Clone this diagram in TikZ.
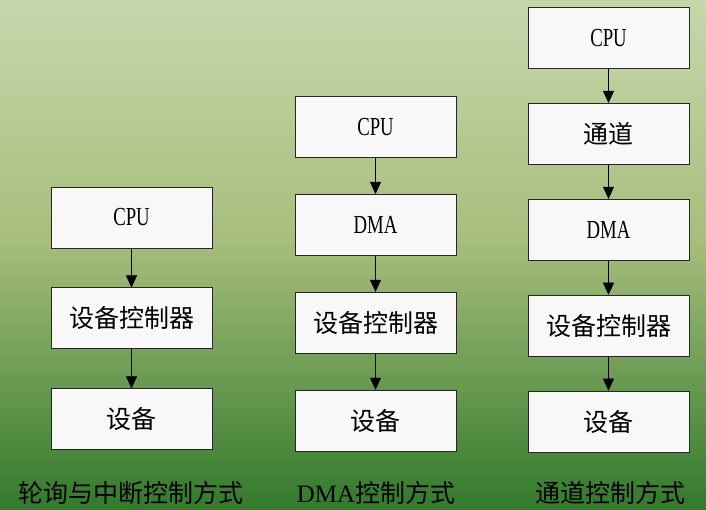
\documentclass[tikz,border=0pt]{standalone}
\usepackage{fontspec}
\setmainfont{Liberation Serif}
\newfontfamily\cjk{Noto Sans CJK SC}
\newfontfamily\narrowrm[FakeStretch=0.72]{Liberation Serif}
\usetikzlibrary{positioning, arrows.meta}
\definecolor{bgtop}{HTML}{C6D7AC}
\definecolor{bgmid}{HTML}{A7BE7C}
\definecolor{bgbot}{HTML}{327A2B}
\definecolor{boxfill}{HTML}{F8F8F8}

\begin{document}
\begin{tikzpicture}[x=1pt, y=1pt,
		box/.style={draw=black!85, fill=boxfill, line width=0.9pt, minimum width=161pt, minimum height=61pt, inner sep=0pt},
		latin/.style={font=\narrowrm\fontsize{26}{26}\selectfont},
		han/.style={font=\cjk\fontsize{25}{25}\selectfont},
		>={Triangle[width=11pt, length=12pt]}]
	
		\shade[top color=bgtop, bottom color=bgmid] (0,269) rectangle (706,509);
		\shade[top color=bgmid, bottom color=bgbot] (0,0) rectangle (706,269.5);
		\useasboundingbox (0,0) rectangle (706,509);
		
		% polling / interrupt
		\node[box, latin]                    at (131.5,291.5) (cpu a)   {CPU};
		\node[box, han, below=39pt of cpu a]                  (ctrl a)  {设备控制器};
		\node[box, han, below=39pt of ctrl a]                 (dev a)   {设备};
		
		% DMA
		\node[box, latin]                    at (375.5,382)   (cpu b)   {CPU};
		\node[box, latin, below=36pt of cpu b]                (dma b)   {DMA};
		\node[box, han, below=36pt of dma b]                  (ctrl b)  {设备控制器};
		\node[box, han, below=36pt of ctrl b]                 (dev b)   {设备};
		
		% channel
		\node[box, latin]                    at (608.5,471)   (cpu c)   {CPU};
		\node[box, han, below=34pt of cpu c]                  (chan c)  {通道};
		\node[box, latin, below=34pt of chan c]               (dma c)   {DMA};
		\node[box, han, below=34pt of dma c]                  (ctrl c)  {设备控制器};
		\node[box, han, below=34pt of ctrl c]                 (dev c)   {设备};
		
		\node[han] at (131,16)  (title a) {轮询与中断控制方式};
		\node[han] at (376,16)  (title b) {{\rmfamily DMA}控制方式};
		\node[han] at (610,16)  (title c) {通道控制方式};
		
		
		\draw[->] (cpu a)  -- (ctrl a);
		\draw[->] (ctrl a) -- (dev a);
		
		\draw[->] (cpu b)  -- (dma b);
		\draw[->] (dma b)  -- (ctrl b);
		\draw[->] (ctrl b) -- (dev b);
		
		\draw[->] (cpu c)  -- (chan c);
		\draw[->] (chan c) -- (dma c);
		\draw[->] (dma c)  -- (ctrl c);
		\draw[->] (ctrl c) -- (dev c);
	\end{tikzpicture}
\end{document}
